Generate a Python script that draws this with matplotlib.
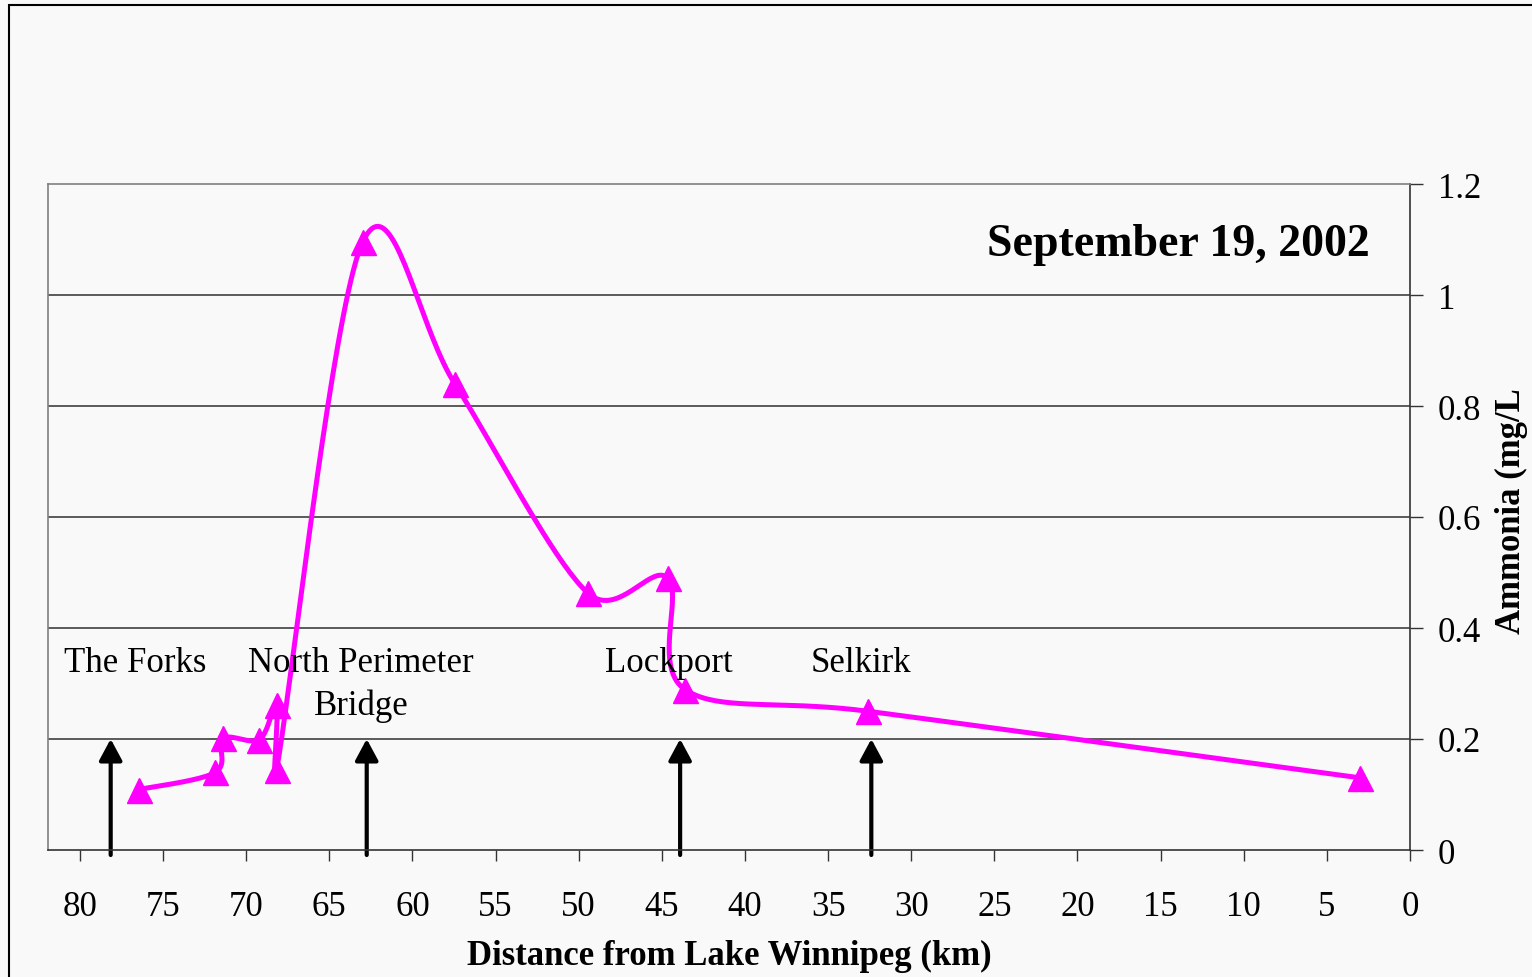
import numpy as np
import matplotlib
matplotlib.use("Agg")
import matplotlib.pyplot as plt
from matplotlib.patches import Rectangle
from matplotlib.ticker import FuncFormatter

# sampling sites in the order the survey line joins them
distance_km = [76.45, 71.85, 71.4, 69.2, 68.17, 68.17, 63.0, 57.45, 49.45, 44.65, 43.6, 32.6, 3.0]
ammonia = [0.109, 0.14, 0.201, 0.199, 0.261, 0.145, 1.095, 0.84, 0.463, 0.49, 0.289, 0.25, 0.13]

# river landmarks (arrow position and label)
landmarks = ["The Forks", "North Perimeter\nBridge", "Lockport", "Selkirk"]
landmark_km = [78.15, 62.75, 43.9, 32.4]
label_km = [76.7, 63.1, 44.6, 33.05]

x_ticks = list(range(80, -1, -5))
y_ticks = [0, 0.2, 0.4, 0.6, 0.8, 1.0, 1.2]

plt.rcParams["font.family"] = ["Liberation Serif", "DejaVu Serif"]

W, H = 1532, 978
BG = "#f9f9f9"


def smooth_curve(pts, n=40):
    # excel-like smoothed line: cubic bezier, catmull-rom tangents,
    # control arms capped at half the segment length
    out = []
    for i in range(len(pts) - 1):
        p0 = pts[max(i - 1, 0)]
        p1 = pts[i]
        p2 = pts[i + 1]
        p3 = pts[min(i + 2, len(pts) - 1)]
        half = np.hypot(*(p2 - p1)) / 2
        a1 = (p2 - p0) / 6
        a2 = (p3 - p1) / 6
        for a in (a1, a2):
            la = np.hypot(*a)
            if la > half:
                a *= half / la
        c1 = p1 + a1
        c2 = p2 - a2
        t = np.linspace(0, 1, n)[:, None]
        seg = (1 - t) ** 3 * p1 + 3 * (1 - t) ** 2 * t * c1 + 3 * (1 - t) * t ** 2 * c2 + t ** 3 * p2
        out.append(seg if i == 0 else seg[1:])
    return np.vstack(out)


fig = plt.figure(figsize=(W / 100, H / 100), dpi=100, facecolor=BG)
ax = fig.add_axes([48 / W, 1 - 851 / H, 1362 / W, 666 / H], facecolor=BG)
ax.set_xlim(81.92, 0)
ax.set_ylim(0, 1.2)

# grid
for v in y_ticks[1:-1]:
    ax.axhline(v, color="#303030", lw=1.1, zorder=1)

# smoothed line computed in display space, then mapped back to data
disp = ax.transData.transform(np.column_stack([distance_km, ammonia]))
curve = ax.transData.inverted().transform(smooth_curve(disp))
ax.plot(curve[:, 0], curve[:, 1], color="#ff00ff", lw=3.6, zorder=3,
        solid_capstyle="round", solid_joinstyle="round")
ax.plot(distance_km, ammonia, linestyle="none", marker="^", ms=18,
        color="#ff00ff", mec="#ff00ff", zorder=4)

# landmark arrows and names
for name, km, lx in zip(landmarks, landmark_km, label_km):
    ax.annotate("", xy=(km, 0.2), xytext=(km, -0.009),
                arrowprops=dict(arrowstyle="-|>,head_length=1.3,head_width=0.7",
                                mutation_scale=10, lw=3, color="black",
                                shrinkA=0, shrinkB=0),
                annotation_clip=False, zorder=2)
    for k, line in enumerate(name.split("\n")):
        ax.annotate(line, xy=(lx, 0.3225), xytext=(0, -31 * k),
                    textcoords="offset points", ha="center", va="baseline",
                    fontsize=25, zorder=5)

ax.text(0.9706, 0.9095, "September 19, 2002", transform=ax.transAxes,
        ha="right", va="center", fontsize=33, fontweight="bold")

# axes styling
ax.yaxis.tick_right()
ax.set_xticks(x_ticks)
ax.set_yticks(y_ticks)
ax.yaxis.set_major_formatter(FuncFormatter(lambda v, p: "%g" % v))
ax.tick_params(axis="y", direction="out", length=9, width=1, pad=11,
               labelsize=25, color="#333333")
ax.tick_params(axis="x", direction="out", length=8, width=1, pad=21,
               labelsize=25, color="#333333")
for side in ["left", "top"]:
    ax.spines[side].set_color("#808080")
    ax.spines[side].set_linewidth(1.2)
for side in ["right", "bottom"]:
    ax.spines[side].set_color("#333333")
    ax.spines[side].set_linewidth(1.2)

ax.set_xlabel("Distance from Lake Winnipeg (km)", fontsize=25, fontweight="bold")
ax.xaxis.set_label_coords(0.5, -0.134)
fig.text(1511 / W, 1 - 511 / H, "Ammonia (mg/L", rotation=90, ha="center",
         va="center", fontsize=25, fontweight="bold")

# outer chart border, cut off at the right and bottom like the original
fig.patches.append(Rectangle((9 / W, -0.1), 2, 1.1 - 6 / H, transform=fig.transFigure,
                             fill=False, ec="black", lw=1.5))

fig.savefig("out.png", dpi=100, facecolor=BG)
